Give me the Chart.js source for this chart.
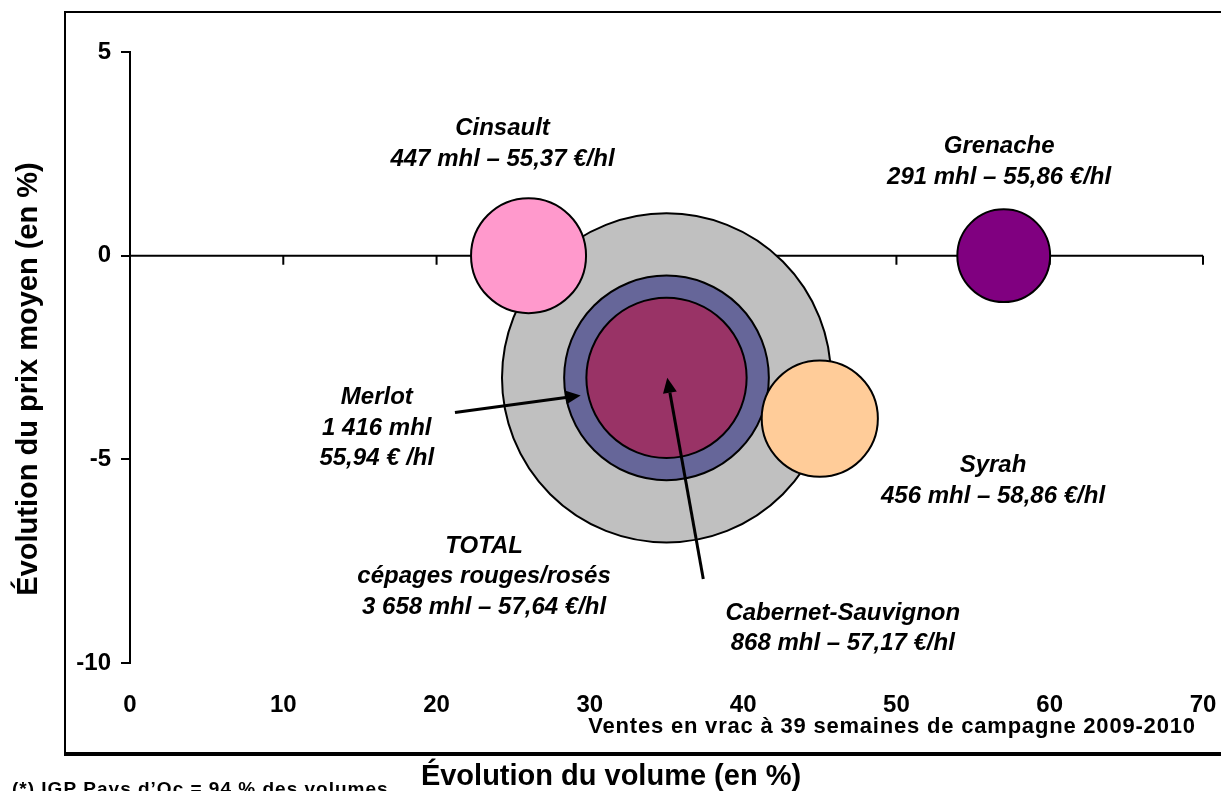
<!DOCTYPE html>
<html>
<head>
<meta charset="utf-8">
<script src="https://cdn.jsdelivr.net/npm/chart.js@4.4.1/dist/chart.umd.min.js"></script>
<style>
  body { margin: 0; background: #fff; }
  canvas { display: block; }
</style>
</head>
<body>
<canvas id="bubbles" width="1221" height="791"></canvas>
<script>
// Ventes en vrac, cépages rouges/rosés - évolution volume vs prix
const varieties = ['Cabernet-Sauvignon', 'Syrah', 'Merlot', 'Cinsault', 'Grenache', 'TOTAL'];
const volumeChange = [35, 45, 35, 26, 57, 35];     // % évolution du volume
const priceChange = [-3, -4, -3, 0, 0, -3];        // % évolution du prix moyen
const volumesMhl = [868, 456, 1416, 447, 291, 3658];
const pricesEur = ['57,17', '58,86', '55,94', '55,37', '55,86', '57,64'];
const xTicks = [0, 10, 20, 30, 40, 50, 60, 70];
const yTicks = [-10, -5, 0, 5];

const fills = ['#993366', '#FFCC99', '#666699', '#FF99CC', '#800080', '#C0C0C0'];
const FONT = '"Liberation Sans", Arial, sans-serif';
const K = 2.72; // bubble radius per sqrt(mhl)

function fmtVol(v) {
  return String(v).replace(/\B(?=(\d{3})+(?!\d))/g, ' ');
}
function volPrice(i) {
  return fmtVol(volumesMhl[i]) + ' mhl – ' + pricesEur[i] + ' €/hl';
}

// text notes, anchored in data units (first line), 30px per line
const notes = [
  { x: 24.3, y: 3.12, lines: ['Cinsault', volPrice(3)] },
  { x: 56.7, y: 2.68, lines: ['Grenache', volPrice(4)] },
  { x: 16.1, y: -3.49, lines: ['Merlot', fmtVol(volumesMhl[2]) + ' mhl', pricesEur[2] + ' € /hl'] },
  { x: 56.3, y: -5.16, lines: ['Syrah', volPrice(1)] },
  { x: 23.1, y: -7.13, lines: ['TOTAL', 'cépages rouges/rosés', volPrice(5)] },
  { x: 46.5, y: -8.77, lines: ['Cabernet-Sauvignon', volPrice(0)] }
];
const arrows = [
  { from: [21.2, -3.85], to: [29.4, -3.43] },
  { from: [37.4, -7.94], to: [35.05, -3.0] }
];

const framePlugin = {
  id: 'frame',
  beforeDraw(chart) {
    const ctx = chart.ctx;
    ctx.save();
    ctx.fillStyle = '#fff';
    ctx.fillRect(0, 0, chart.width, chart.height);
    ctx.strokeStyle = '#000';
    ctx.lineWidth = 2;
    ctx.beginPath();
    ctx.moveTo(1230, 12);
    ctx.lineTo(65, 12);
    ctx.lineTo(65, 753);
    ctx.stroke();
    ctx.lineWidth = 4;
    ctx.beginPath();
    ctx.moveTo(64, 754);
    ctx.lineTo(1230, 754);
    ctx.stroke();
    ctx.restore();
  }
};

// horizontal axis drawn through y = 0, ticks hanging below
const zeroLinePlugin = {
  id: 'zeroLine',
  beforeDatasetsDraw(chart) {
    const { ctx, scales: { x, y } } = chart;
    const y0 = y.getPixelForValue(0);
    ctx.save();
    ctx.strokeStyle = '#000';
    ctx.lineWidth = 2;
    ctx.beginPath();
    ctx.moveTo(x.getPixelForValue(0), y0);
    ctx.lineTo(x.getPixelForValue(70), y0);
    xTicks.forEach(v => {
      const px = x.getPixelForValue(v);
      ctx.moveTo(px, y0);
      ctx.lineTo(px, y0 + 9);
    });
    ctx.stroke();
    ctx.restore();
  }
};

function drawArrow(ctx, x1, y1, x2, y2) {
  const a = Math.atan2(y2 - y1, x2 - x1);
  const len = 15, half = 7;
  const bx = x2 - len * Math.cos(a), by = y2 - len * Math.sin(a);
  ctx.beginPath();
  ctx.moveTo(x1, y1);
  ctx.lineTo(bx, by);
  ctx.stroke();
  ctx.beginPath();
  ctx.moveTo(x2, y2);
  ctx.lineTo(bx + half * Math.sin(a), by - half * Math.cos(a));
  ctx.lineTo(bx - half * Math.sin(a), by + half * Math.cos(a));
  ctx.closePath();
  ctx.fill();
}

const notesPlugin = {
  id: 'notes',
  afterDatasetsDraw(chart) {
    const { ctx, scales: { x, y } } = chart;
    ctx.save();
    ctx.strokeStyle = '#000';
    ctx.fillStyle = '#000';
    ctx.lineWidth = 3;
    arrows.forEach(a => {
      drawArrow(ctx,
        x.getPixelForValue(a.from[0]), y.getPixelForValue(a.from[1]),
        x.getPixelForValue(a.to[0]), y.getPixelForValue(a.to[1]));
    });

    ctx.textAlign = 'center';
    ctx.textBaseline = 'middle';
    ctx.font = 'italic bold 24px ' + FONT;
    notes.forEach(n => {
      const px = x.getPixelForValue(n.x);
      const py = y.getPixelForValue(n.y);
      n.lines.forEach((t, i) => ctx.fillText(t, px, py + i * 30.5));
    });

    // titles and footnote
    ctx.font = 'bold 22px ' + FONT;
    ctx.letterSpacing = '0.8px';
    ctx.fillText('Ventes en vrac à 39 semaines de campagne 2009-2010', 892, 727);
    ctx.letterSpacing = '0px';
    ctx.font = 'bold 29px ' + FONT;
    ctx.fillText('Évolution du volume (en %)', 611, 777);
    ctx.save();
    ctx.translate(29, 379);
    ctx.rotate(-Math.PI / 2);
    ctx.fillText('Évolution du prix moyen (en %)', 0, 0);
    ctx.restore();
    ctx.textAlign = 'left';
    ctx.textBaseline = 'alphabetic';
    ctx.font = 'bold 19px ' + FONT;
    ctx.letterSpacing = '1px';
    ctx.fillText('(*) IGP Pays d\u2019Oc = 94 % des volumes.', 12, 795);
    ctx.restore();
  }
};

new Chart(document.getElementById('bubbles'), {
  type: 'bubble',
  data: {
    datasets: varieties.map((name, i) => ({
      label: name,
      data: [{ x: volumeChange[i], y: priceChange[i], r: K * Math.sqrt(volumesMhl[i]) }],
      backgroundColor: fills[i],
      borderColor: '#000',
      borderWidth: 2
    }))
  },
  options: {
    responsive: false,
    animation: false,
    events: [],
    layout: { autoPadding: false, padding: { left: 0, right: 18, top: 52, bottom: 0 } },
    plugins: { legend: { display: false }, tooltip: { enabled: false } },
    scales: {
      x: {
        type: 'linear',
        min: 0,
        max: 70,
        afterFit: s => { s.height = 128; s.paddingLeft = 0; s.paddingRight = 0; },
        afterBuildTicks: s => { s.ticks = xTicks.map(v => ({ value: v })); },
        grid: { display: false, drawTicks: false },
        border: { display: false },
        ticks: { color: '#000', padding: 28, maxRotation: 0, font: { family: FONT, size: 24, weight: 'bold' } }
      },
      y: {
        type: 'linear',
        min: -10,
        max: 5,
        afterFit: s => { s.width = 130; s.paddingTop = 0; s.paddingBottom = 0; },
        afterBuildTicks: s => { s.ticks = yTicks.map(v => ({ value: v })); },
        grid: { drawOnChartArea: false, drawTicks: true, tickLength: 9, color: '#000', lineWidth: 2 },
        border: { display: true, color: '#000', width: 2 },
        ticks: { color: '#000', padding: 10, font: { family: FONT, size: 24, weight: 'bold' } }
      }
    }
  },
  plugins: [framePlugin, zeroLinePlugin, notesPlugin]
});
</script>
</body>
</html>
